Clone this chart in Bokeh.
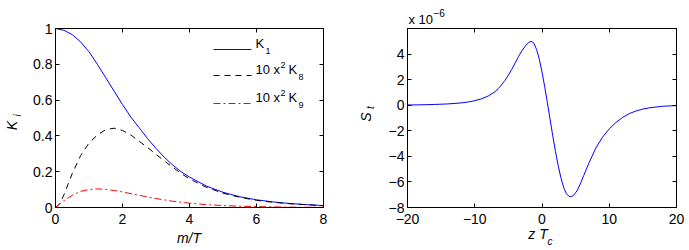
import math
from bokeh.plotting import figure
from bokeh.layouts import row
from bokeh.models import LinearAxis, FixedTicker, Label, Range1d
from bokeh.embed import file_html
from bokeh.resources import INLINE

# ---------------- data: left panel ----------------
x_k1 = [0, 0.25, 0.5, 0.75, 1.0, 1.25, 1.5, 1.75, 2.0, 2.25, 2.5, 2.75, 3.0, 3.25,
        3.5, 3.75, 4.0, 4.5, 5.0, 5.5, 6.0, 6.5, 7.0, 7.5, 8.0]
k1 = [1.0, 0.99, 0.966, 0.925, 0.87, 0.80, 0.725, 0.65, 0.575, 0.505, 0.445, 0.385,
      0.33, 0.28, 0.237, 0.20, 0.17, 0.12, 0.085, 0.06, 0.043, 0.031, 0.022, 0.016, 0.011]

x_k8 = [0, 0.125, 0.25, 0.375, 0.5, 0.75, 1.0, 1.25, 1.5, 1.75, 2.0, 2.25, 2.5, 2.75,
        3.0, 3.25, 3.5, 3.75, 4.0, 4.5, 5.0, 5.5, 6.0, 6.5, 7.0, 7.5, 8.0]
k8 = [0.0, 0.02, 0.07, 0.13, 0.19, 0.29, 0.36, 0.405, 0.435, 0.443, 0.43, 0.405, 0.37,
      0.335, 0.297, 0.26, 0.225, 0.19, 0.16, 0.113, 0.08, 0.057, 0.04, 0.029, 0.021,
      0.015, 0.01]

x_k9 = [0, 0.125, 0.25, 0.5, 0.75, 1.0, 1.25, 1.5, 1.75, 2.0, 2.5, 3.0, 3.5, 4.0, 4.5,
        5.0, 5.5, 6.0, 7.0, 8.0]
k9 = [0.0, 0.02, 0.038, 0.068, 0.09, 0.101, 0.104, 0.101, 0.095, 0.087, 0.068, 0.05,
      0.035, 0.024, 0.016, 0.011, 0.007, 0.005, 0.002, 0.001]

left_xticks = [0, 2, 4, 6, 8]
left_xlabels = ["0", "2", "4", "6", "8"]
left_yticks = [0, 0.2, 0.4, 0.6, 0.8, 1]
left_ylabels = ["0", "0.2", "0.4", "0.6", "0.8", "1"]
# legend entries: (main text, superscript, symbol, subscript)
legend_entries = [("", "", "K", "1"), ("10 x", "2", "K", "8"), ("10 x", "2", "K", "9")]

# ---------------- data: right panel ----------------
z = [-20, -18, -16, -14, -12, -11, -10, -9, -8, -7, -6.5, -6, -5.5, -5, -4.5, -4, -3.5,
     -3, -2.5, -2, -1.6, -1.2, -0.8, -0.4, 0, 0.4, 0.8, 1.2, 1.6, 2, 2.4, 2.8, 3.2, 3.6,
     4, 4.3, 4.7, 5.2, 5.7, 6.2, 7, 8, 9, 10, 11, 12, 13, 14, 15, 16, 18, 20]
st = [0.02, 0.03, 0.06, 0.1, 0.18, 0.25, 0.35, 0.5, 0.72, 1.05, 1.3, 1.6, 1.95, 2.35,
      2.8, 3.3, 3.8, 4.25, 4.62, 4.9, 5.0, 4.85, 4.35, 3.6, 2.6, 1.45, 0.2, -1.1, -2.4,
      -3.6, -4.7, -5.65, -6.4, -6.9, -7.12, -7.15, -7.05, -6.7, -6.15, -5.5, -4.5,
      -3.35, -2.5, -1.85, -1.35, -0.95, -0.65, -0.45, -0.3, -0.2, -0.08, -0.03]

right_xticks = [-20, -10, 0, 10, 20]
right_xlabels = ["\u221220", "\u221210", "0", "10", "20"]
right_yticks = [-8, -6, -4, -2, 0, 2, 4]
right_ylabels = ["\u22128", "\u22126", "\u22124", "\u22122", "0", "2", "4"]

FONT = "Liberation Sans"
FS = "14px"
H = 250
FRAME_H = 179


def style(p, xt, xl, yt, yl):
    p.grid.visible = False
    p.outline_line_color = "black"
    p.background_fill_color = "white"
    p.border_fill_color = "white"
    for ax, ticks, labels in ((p.xaxis[0], xt, xl), (p.yaxis[0], yt, yl)):
        ax.ticker = FixedTicker(ticks=ticks)
        ax.major_label_overrides = {t: l for t, l in zip(ticks, labels)}
        ax.major_tick_in = 4
        ax.major_tick_out = 0
        ax.minor_tick_line_color = None
        ax.axis_line_color = "black"
        ax.major_tick_line_color = "black"
        ax.major_label_text_font = FONT
        ax.major_label_text_font_size = FS
        ax.major_label_text_color = "black"
    p.xaxis[0].major_label_standoff = 6
    p.yaxis[0].major_label_standoff = 3
    for side, ticks in (("above", xt), ("right", yt)):
        ax = LinearAxis(ticker=FixedTicker(ticks=ticks), major_tick_in=4, major_tick_out=0,
                        minor_tick_line_color=None, major_label_standoff=0,
                        major_label_overrides={t: "" for t in ticks},
                        major_label_text_font_size="1px",
                        major_label_text_color=None, axis_line_color="black")
        p.add_layout(ax, side)


def to_data(p, fw, dx, dy):
    # pixel offsets from the frame's bottom-left, mapped through the ranges
    xr, yr = p.x_range, p.y_range
    return (xr.start + dx / fw * (xr.end - xr.start),
            yr.start + dy / FRAME_H * (yr.end - yr.start))


def lab(p, fw, side, dx, dy, text, size=FS, italic=False, angle=0.0, align="center"):
    x, y = to_data(p, fw, dx, dy)
    lbl = Label(x=x, y=y, text=text,
                angle=angle, text_align=align, text_baseline="middle",
                text_font=FONT, text_font_size=size,
                text_font_style="italic" if italic else "normal",
                text_color="black")
    if side == "center":
        p.add_layout(lbl)
    else:
        p.add_layout(lbl, side)


# ---------------- left figure ----------------
FW1 = 268
p1 = figure(width=345, height=H, x_range=Range1d(0, 8), y_range=Range1d(0, 1),
            output_backend="svg", toolbar_location=None,
            min_border_left=55, min_border_right=22, min_border_top=28,
            min_border_bottom=H - 28 - FRAME_H)
style(p1, left_xticks, left_xlabels, left_yticks, left_ylabels)

styles = [dict(line_color="#0000ff"),
          dict(line_color="black", line_dash="6 5"),
          dict(line_color="#ff0000", line_dash="7 3 2 3")]
p1.line(x_k1, k1, line_width=1, **styles[0])
p1.line(x_k8, k8, line_width=1, **styles[1])
p1.line(x_k9, k9, line_width=1, **styles[2])

# legend (sample line + text with super/subscripts)
row_dy = [158, 132, 104]
for (main, sup, sym, sub), st_kw, dy in zip(legend_entries, styles, row_dy):
    xa, ya = to_data(p1, FW1, 158, dy)
    xb, yb = to_data(p1, FW1, 196, dy)
    p1.line([xa, xb], [ya, yb], line_width=1, **st_kw)
    if main:
        lab(p1, FW1, "center", 200, dy + 6, main, size="13px", align="left")
        lab(p1, FW1, "center", 225, dy + 11, sup, size="9px", align="left")
        lab(p1, FW1, "center", 233, dy + 6, sym, size="13px", align="left")
        lab(p1, FW1, "center", 243, dy - 1, sub, size="9px", align="left")
    else:
        lab(p1, FW1, "center", 200, dy + 6, sym, size="13px", align="left")
        lab(p1, FW1, "center", 210, dy - 1, sub, size="9px", align="left")

lab(p1, FW1, "left", -43.5, 82, "K", italic=True, angle=math.pi / 2)
lab(p1, FW1, "left", -38.5, 92, "i", size="10px", italic=True, angle=math.pi / 2)
lab(p1, FW1, "below", 133.5, -30, "m/T", italic=True)

# ---------------- right figure ----------------
FW2 = 269
p2 = figure(width=344, height=H, x_range=Range1d(-20, 20), y_range=Range1d(-8, 6),
            output_backend="svg", toolbar_location=None,
            min_border_left=62, min_border_right=13, min_border_top=28,
            min_border_bottom=H - 28 - FRAME_H)
style(p2, right_xticks, right_xlabels, right_yticks, right_ylabels)

p2.line(z, st, line_color="#0000ff", line_width=1)

lab(p2, FW2, "left", -41.7, 90.5, "S", italic=True, angle=math.pi / 2)
lab(p2, FW2, "left", -37, 100, "t", size="10px", italic=True, angle=math.pi / 2)
lab(p2, FW2, "below", 130.5, -26.5, "z T", italic=True)
lab(p2, FW2, "left", 142.5, -33.5, "c", size="10px", italic=True)
lab(p2, FW2, "above", 1, 188.5, "x 10", size="13px", align="left")
lab(p2, FW2, "right", 26, 194.5, "\u22126", size="10px", align="left")

layout = row(p1, p2)
open("out.html", "w").write(file_html(layout, INLINE))
